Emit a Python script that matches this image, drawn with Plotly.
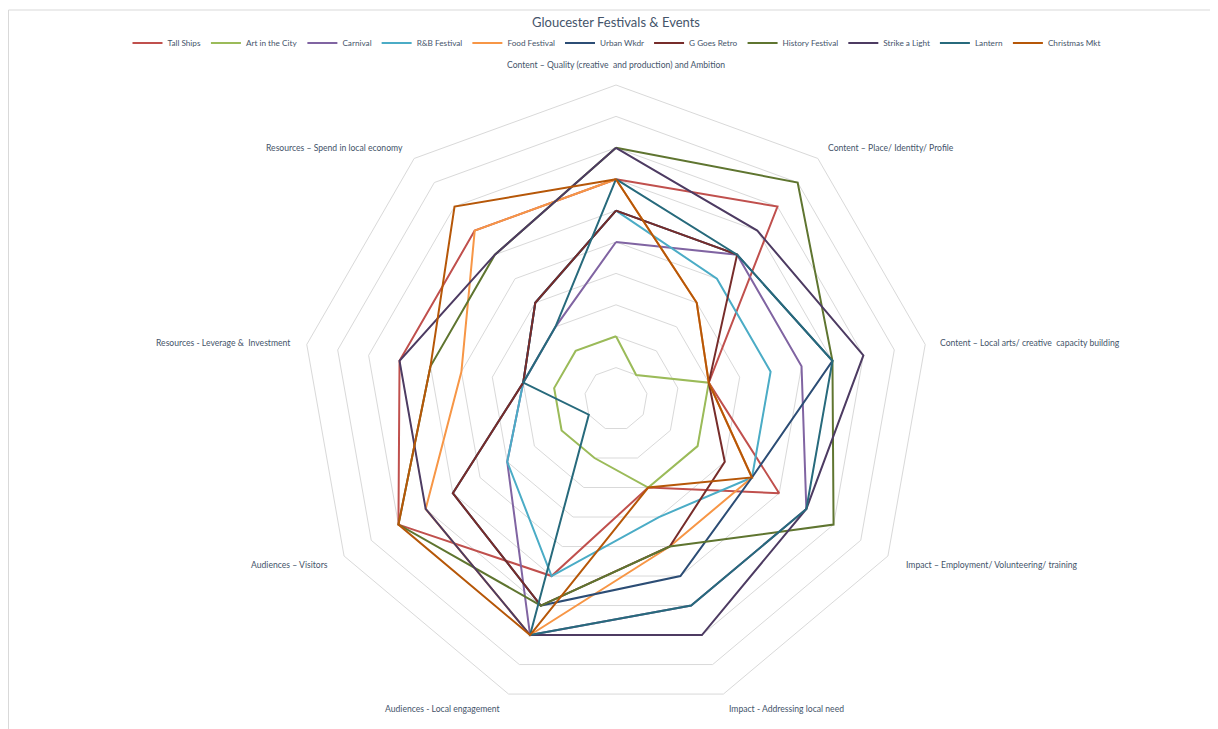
import plotly.graph_objects as go

categories = [
    "Content – Quality (creative  and production) and Ambition",
    "Content – Place/ Identity/ Profile",
    "Content – Local arts/ creative  capacity building",
    "Impact – Employment/ Volunteering/ training",
    "Impact - Addressing local need",
    "Audiences - Local engagement",
    "Audiences – Visitors",
    "Resources - Leverage &  Investment",
    "Resources – Spend in local economy",
]

tall_ships = [7, 8, 3, 6, 3, 6, 8, 7, 7]
art_in_the_city = [2, 1, 3, 3, 3, 2, 2, 2, 2]
carnival = [5, 6, 6, 7, 7, 8, 4, 3, 3]
rnb_festival = [6, 5, 5, 5, 4, 6, 4, 3, 4]
food_festival = [7, 4, 3, 5, 5, 8, 7, 5, 7]
urban_wkdr = [6, 6, 7, 5, 6, 7, 6, 3, 4]
g_goes_retro = [6, 6, 3, 4, 5, 7, 6, 3, 4]
history_festival = [8, 9, 7, 8, 5, 7, 8, 6, 6]
strike_a_light = [8, 7, 8, 7, 8, 8, 7, 7, 6]
lantern = [7, 6, 7, 7, 7, 8, 1, 3, 3]
christmas_mkt = [7, 4, 3, 5, 3, 8, 8, 6, 8]

series_names = ["Tall Ships", "Art in the City", "Carnival", "R&B Festival", "Food Festival",
                "Urban Wkdr", "G Goes Retro", "History Festival", "Strike a Light", "Lantern",
                "Christmas Mkt"]
series_values = [tall_ships, art_in_the_city, carnival, rnb_festival, food_festival,
                 urban_wkdr, g_goes_retro, history_festival, strike_a_light, lantern,
                 christmas_mkt]
colors = ["#C0504D", "#9BBB59", "#8064A2", "#4BACC6", "#F79646",
          "#2C4D75", "#772C2A", "#5F7530", "#4D3B62", "#276A7C", "#B65708"]

FONT = "Lato, 'Noto Sans', sans-serif"
TEXT_COLOR = "#44546A"

fig = go.Figure()
for name, vals, col in zip(series_names, series_values, colors):
    fig.add_trace(go.Scatterpolar(
        r=vals + vals[:1],
        theta=categories + categories[:1],
        mode="lines",
        name=name,
        line=dict(color=col, width=2),
    ))

W, H = 1218, 729
OFF = 8  # page body margin offset
cx, cy, R = 616 - OFF, 399 - OFF, 314


def px(x):
    return (x - OFF) / W


def py(y):
    return 1 - (y - OFF) / H


# axis label placement (screen px): x, y, anchor
label_pos = [
    (616, 65, "center"),
    (826, 148, "left"),
    (938, 343, "left"),
    (904, 565, "left"),
    (727, 709, "left"),
    (502, 709, "right"),
    (330, 565, "right"),
    (292, 343, "right"),
    (405, 148, "right"),
]
annotations = []
for text, (x, y, anc) in zip(categories, label_pos):
    annotations.append(dict(text=text, xref="paper", yref="paper", x=px(x), y=py(y),
                            xanchor=anc, yanchor="middle", showarrow=False,
                            font=dict(family=FONT, size=8.6, color=TEXT_COLOR)))

fig.update_layout(
    width=W, height=H,
    margin=dict(l=0, r=0, t=0, b=0),
    paper_bgcolor="white",
    plot_bgcolor="white",
    title=dict(text="Gloucester Festivals & Events", x=px(616), xanchor="center",
               y=py(22), yanchor="middle",
               font=dict(family=FONT, size=13, color=TEXT_COLOR)),
    legend=dict(orientation="h", x=px(617), xanchor="center", y=py(43), yanchor="middle",
                font=dict(family=FONT, size=8.2, color=TEXT_COLOR),
                itemwidth=30, tracegroupgap=0, bgcolor="rgba(0,0,0,0)"),
    polar=dict(
        domain=dict(x=[(cx - R) / W, (cx + R) / W], y=[(H - cy - R) / H, (H - cy + R) / H]),
        bgcolor="white",
        gridshape="linear",
        radialaxis=dict(range=[0, 10], dtick=1, showticklabels=False, ticks="",
                        showline=False, gridcolor="#D9D9D9", gridwidth=1),
        angularaxis=dict(rotation=90, direction="clockwise", showgrid=False,
                         showline=True, linecolor="#D9D9D9", linewidth=1, ticks="",
                         showticklabels=False),
    ),
    annotations=annotations,
    shapes=[dict(type="rect", xref="paper", yref="paper", x0=0.5 / W, x1=1.01, y0=-0.01,
                 y1=py(10), line=dict(color="#D9D9D9", width=1))],
)

fig.write_html("out.html")
